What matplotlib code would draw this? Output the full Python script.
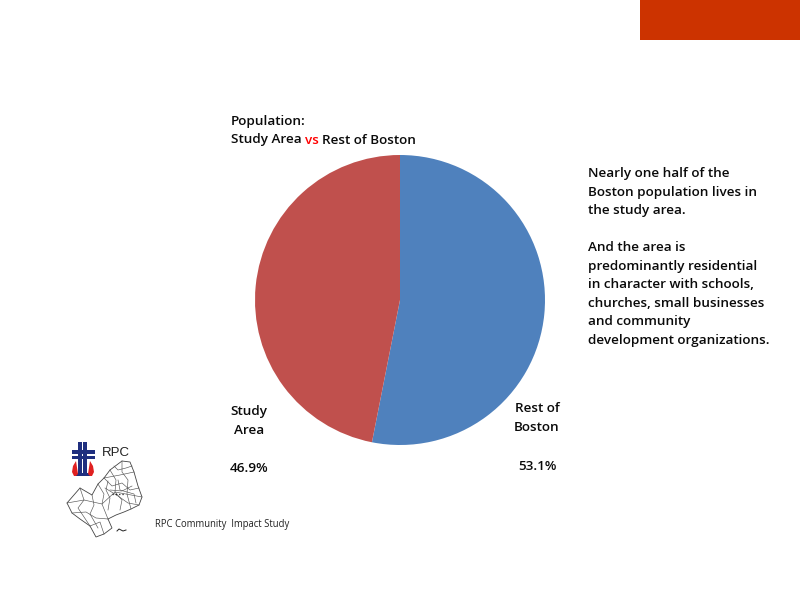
import matplotlib
matplotlib.use("Agg")
import matplotlib.pyplot as plt
from matplotlib.patches import Rectangle, Polygon

# Data
categories = ["Rest of\nBoston", "Study\nArea"]
shares = [53.1, 46.9]
slice_colors = ["#4F81BD", "#C0504D"]
value_labels = ["53.1%", "46.9%"]
side_note = ("Nearly one half of the\nBoston population lives in\nthe study area.\n\n"
             "And the area is\npredominantly residential\nin character with schools,\n"
             "churches, small businesses\nand community\ndevelopment organizations.")

plt.rcParams["font.family"] = ["Open Sans", "DejaVu Sans"]
TXT = "#0A0A0A"
fig = plt.figure(figsize=(8, 6), dpi=100, facecolor="white")

# Page layer in pixel coordinates
bg = fig.add_axes([0, 0, 1, 1])
bg.set_xlim(0, 800); bg.set_ylim(600, 0); bg.axis("off")
bg.add_patch(Rectangle((640, 0), 160, 40, color="#CC3300", lw=0))

# Pie
R = 145
pie_ax = fig.add_axes([(400 - R) / 800, (300 - R) / 600, 2 * R / 800, 2 * R / 600])
pie_ax.pie(shares, colors=slice_colors, startangle=90, counterclock=False, radius=1)
pie_ax.set_xlim(-1, 1); pie_ax.set_ylim(-1, 1)

fs = 9.7
kw = dict(fontsize=fs, color=TXT, fontweight="semibold")
bg.text(231, 121, "Population:", va="center", ha="left", **kw)
bg.text(231, 140, "Study Area", va="center", ha="left", **kw)
bg.text(305, 140, "vs", va="center", ha="left", fontsize=fs, color="#FF0000", fontweight="semibold")
bg.text(322, 140, "Rest of Boston", va="center", ha="left", **kw)

bg.text(537, 418, categories[0], ha="center", va="center", linespacing=1.6, **kw)
bg.text(537, 466, value_labels[0], ha="center", va="center", **kw)
bg.text(249, 421, categories[1], ha="center", va="center", linespacing=1.6, **kw)
bg.text(249, 468, value_labels[1], ha="center", va="center", **kw)

bg.text(588, 257, side_note, ha="left", va="center", linespacing=1.55, **kw)

bg.text(155, 524, "RPC Community  Impact Study", ha="left", va="center", fontsize=6.85, color="#222222")

# Logo: cross and flames
navy = "#1F2F7F"
bg.add_patch(Rectangle((72, 450), 23, 4, color=navy, lw=0))
bg.add_patch(Rectangle((72, 456), 23, 3, color=navy, lw=0))
bg.add_patch(Rectangle((78, 442), 4, 33, color=navy, lw=0))
bg.add_patch(Rectangle((83, 442), 4, 33, color=navy, lw=0))
bg.add_patch(Rectangle((75, 473), 16, 2.5, color=navy, lw=0))
for xs in ([72, 73, 76, 78, 76, 74, 72], [94, 93, 90, 88, 90, 92, 94]):
    bg.add_patch(Polygon(list(zip(xs, [472, 466, 461, 474, 476, 476, 472])), color="#E02020", lw=0))
bg.text(102, 453, "RPC", fontsize=9.5, color="#222222", va="center", ha="left",
        family=["Liberation Sans", "DejaVu Sans"])

# Logo: map outline and district lines
outline = [(122, 461), (130, 462), (134, 472), (138, 486), (142, 497), (139, 505),
           (131, 509), (124, 512), (116, 515), (108, 519), (112, 528), (104, 534),
           (96, 537), (90, 526), (80, 519), (72, 513), (67, 503), (80, 488),
           (92, 495), (98, 484), (104, 478), (110, 470)]
bg.add_patch(Polygon(outline, closed=True, fill=False, ec="#444444", lw=0.6))
inner = [[(104, 478), (112, 486), (122, 483), (130, 490), (139, 488)],
         [(110, 470), (116, 480), (115, 492), (122, 500), (120, 510)],
         [(122, 461), (122, 472), (128, 480), (127, 494), (131, 509)],
         [(98, 484), (104, 494), (102, 504), (108, 519)],
         [(80, 488), (84, 500), (78, 508), (90, 526)],
         [(67, 503), (84, 500), (102, 504), (115, 492), (142, 497)],
         [(72, 513), (86, 512), (96, 518), (108, 519)],
         [(90, 526), (100, 522), (104, 534)],
         [(104, 478), (120, 475), (134, 472)],
         [(105, 488), (118, 496), (128, 503), (139, 505)],
         [(114, 466), (118, 470), (126, 468), (132, 466)],
         [(108, 481), (106, 490), (110, 498), (108, 510)],
         [(118, 480), (120, 490), (134, 494), (136, 503)],
         [(92, 495), (94, 505), (90, 514), (98, 528)],
         [(110, 490), (122, 491), (132, 486)]]
for line in inner:
    bg.plot(*zip(*line), color="#555555", lw=0.45)
bg.plot([112, 124], [494, 494], color="#222222", lw=0.9, ls=":")
bg.plot([117, 119, 121, 123, 126], [531, 529, 530, 531, 530], color="#222222", lw=0.7)

fig.savefig("out.png", dpi=100)
